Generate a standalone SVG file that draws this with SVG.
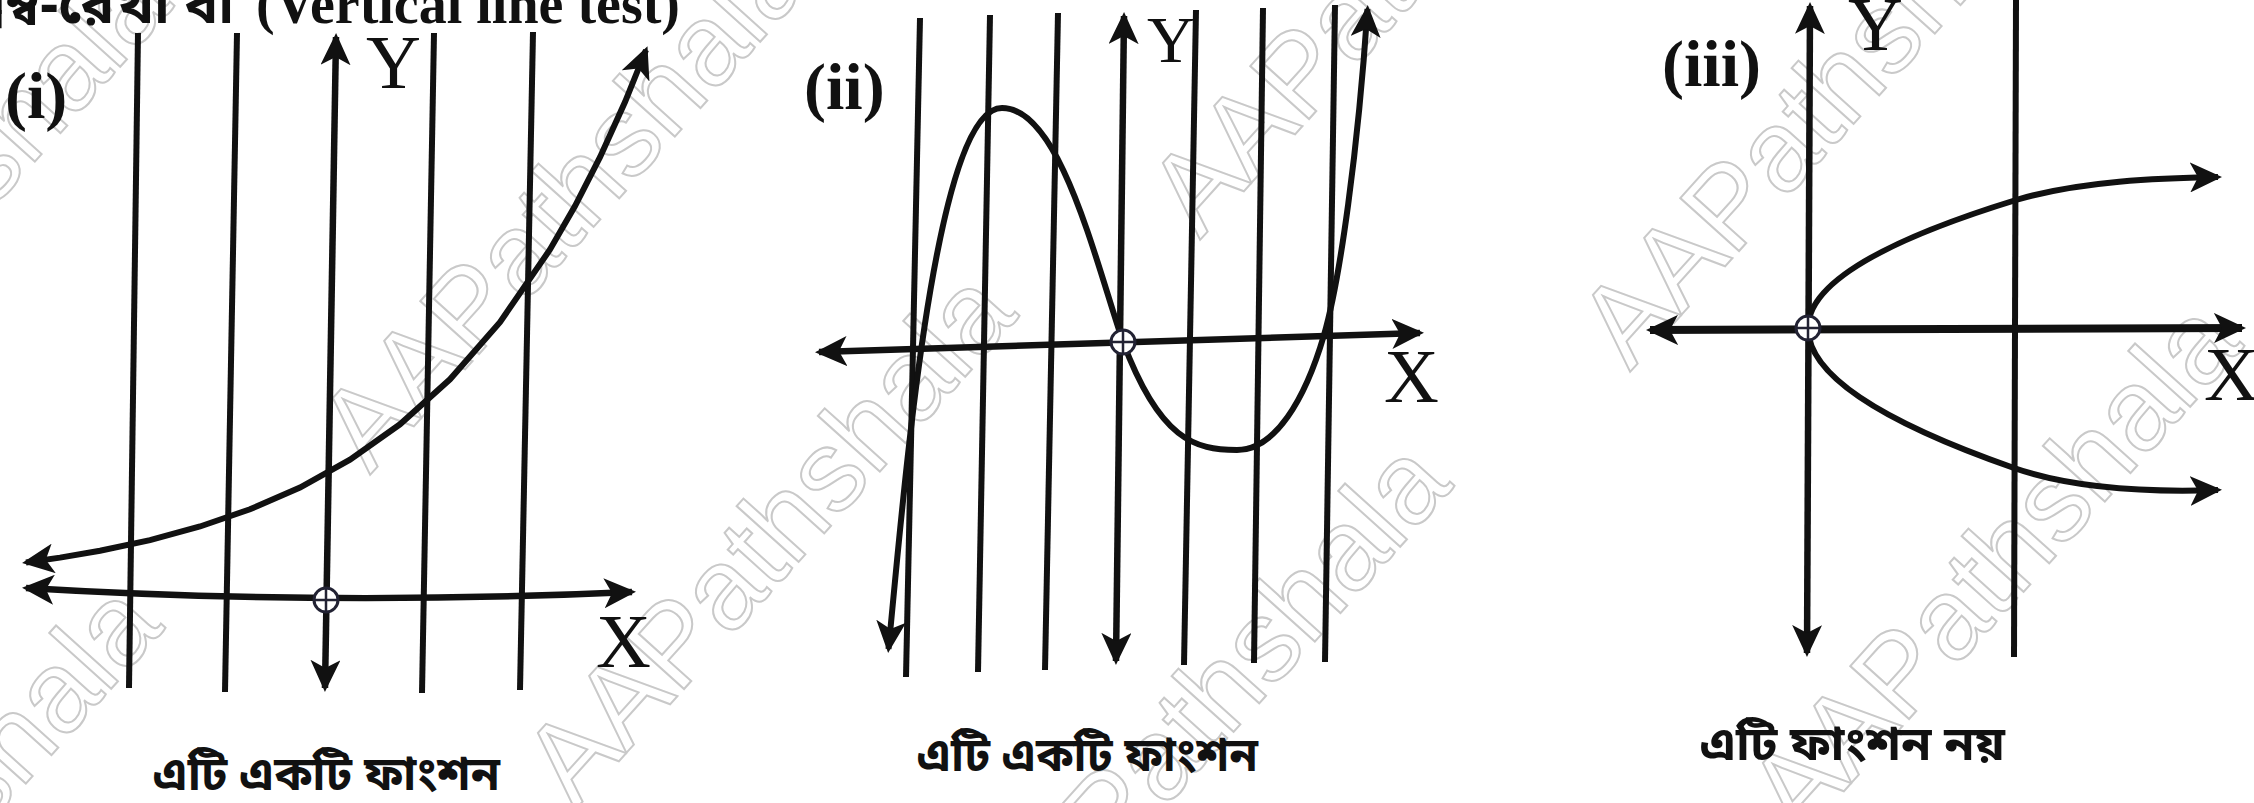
<svg xmlns="http://www.w3.org/2000/svg" width="2254" height="803" viewBox="0 0 2254 803">
<style>
.ln{stroke:#111;stroke-width:6;fill:none}
.ax{stroke:#111;stroke-width:6.5;fill:none}
.cv{stroke:#111;stroke-width:6;fill:none}
.e{marker-end:url(#ah)}
.b{marker-start:url(#ah);marker-end:url(#ah)}
.pl{font-family:"Liberation Serif",serif;font-weight:bold;font-size:66px;fill:#111}
.al{font-family:"Liberation Serif",serif;font-size:76px;fill:#111}
.hd{font-family:"Liberation Serif",serif;font-weight:bold;font-size:56px;fill:#111}
.bn{font-family:"Noto Sans Bengali","Noto Serif Bengali","Lohit Bengali","FreeSans","Noto Sans",sans-serif;font-weight:bold;font-size:48px;fill:#111}
.wm{font-family:"Liberation Sans",sans-serif;font-size:115px;fill:none;stroke:#c9c9c9;stroke-width:2}
.org circle{fill:#fff;stroke:#223;stroke-width:3}
.org path{stroke:#223;stroke-width:2.5;fill:none}
</style>
<defs>
<marker id="ah" viewBox="0 0 32 30" refX="28" refY="15" markerWidth="32" markerHeight="30" markerUnits="userSpaceOnUse" orient="auto-start-reverse">
<path d="M0,0 L32,15 L0,30 L8,15 z" fill="#111"/>
</marker>
</defs>
<rect width="2254" height="803" fill="#fff"/>
<g id="watermarks">
<text class="wm" transform="translate(-270,500) rotate(-48)">AAPathshala</text>
<text class="wm" transform="translate(370,475) rotate(-48)">AAPathshala</text>
<text class="wm" transform="translate(-279,1122) rotate(-48)">AAPathshala</text>
<text class="wm" transform="translate(575,810) rotate(-48)">AAPathshala</text>
<text class="wm" transform="translate(1200,240) rotate(-48)">AAPathshala</text>
<text class="wm" transform="translate(1010,980) rotate(-48)">AAPathshala</text>
<text class="wm" transform="translate(1630,372) rotate(-48)">AAPathshala</text>
<text class="wm" transform="translate(1800,840) rotate(-48)">AAPathshala</text>
</g>
<g id="header">
<text class="bn" x="234" y="23" text-anchor="end" style="font-size:56px">উল্লম্ব-রেখা বা</text>
<text class="hd" x="256" y="23">(Vertical line test)</text>
</g>
<g id="panel-i">
<text class="pl" x="5" y="118">(i)</text>
<g id="vlines-i">
<line class="ln" x1="138" y1="33" x2="129" y2="688"/>
<line class="ln" x1="237" y1="33" x2="225" y2="692"/>
<line class="ln" x1="434" y1="33" x2="422" y2="693"/>
<line class="ln" x1="533" y1="32" x2="520" y2="690"/>
</g>
<g id="axes-i">
<line class="ax b" x1="325" y1="688" x2="336" y2="37"/>
<path class="ax b" d="M26,588 Q326,606 632,592"/>
</g>
<path id="curve-i" class="cv b" d="M26,562.5 L60,557.6 L100,550.7 L150,540.1 L200,526.5 L250,509.3 L300,487.5 L350,459.6 L400,424.3 L450,379.3 L500,322.2 L550,249.5 L575,206 L600,157.2 L625,102 L646,50"/>
<g class="org" transform="translate(326,600)"><circle r="12"/><path d="M-12,0H12M0,-12V12"/></g>
<text class="al" x="366" y="88">Y</text>
<text class="al" x="596" y="667">X</text>
<text class="bn" x="153" y="790" textLength="347" lengthAdjust="spacingAndGlyphs">এটি একটি ফাংশন</text>
</g>
<g id="panel-ii">
<text class="pl" x="804" y="109">(ii)</text>
<g id="vlines-ii">
<line class="ln" x1="920" y1="18" x2="906" y2="677"/>
<line class="ln" x1="990" y1="15" x2="978" y2="672"/>
<line class="ln" x1="1058" y1="13" x2="1045" y2="670"/>
<line class="ln" x1="1196" y1="10" x2="1184" y2="665"/>
<line class="ln" x1="1263" y1="8" x2="1254" y2="663"/>
<line class="ln" x1="1335" y1="5" x2="1325" y2="662"/>
</g>
<g id="axes-ii">
<line class="ax b" x1="1116" y1="661" x2="1124" y2="16"/>
<line class="ax b" x1="819" y1="352" x2="1420" y2="333"/>
</g>
<path id="curve-ii" class="cv b" d="M888.5,649 C905,480 935,108 1002,108 C1060,108 1095,260 1123,342 C1160,440 1195,450 1237,450 C1275,450 1305,400 1324,335 C1340,280 1358,150 1367.5,9"/>
<g class="org" transform="translate(1123,342)"><circle r="12"/><path d="M-12,0H12M0,-12V12"/></g>
<text class="al" x="1147" y="62" style="font-size:66px">Y</text>
<text class="al" x="1384" y="402">X</text>
<text class="bn" x="917" y="771" textLength="341" lengthAdjust="spacingAndGlyphs">এটি একটি ফাংশন</text>
</g>
<g id="panel-iii">
<text class="pl" x="1662" y="86">(iii)</text>
<line id="vline-iii" class="ln" x1="2016" y1="0" x2="2014" y2="657"/>
<g id="axes-iii">
<line class="ax b" x1="1807" y1="653" x2="1810" y2="6"/>
<line class="ax b" x1="1650" y1="330" x2="2242" y2="328" style="stroke-width:8"/>
</g>
<path id="curve-iii-upper" class="cv e" d="M1808,328 Q1808,264 2016,200 C2080,181 2160,178 2218,177"/>
<path id="curve-iii-lower" class="cv e" d="M1808,328 Q1808,396 2014,468 C2080,491 2160,492 2218,490"/>
<g class="org" transform="translate(1808,328)"><circle r="12"/><path d="M-12,0H12M0,-12V12"/></g>
<text class="al" x="1848" y="50">Y</text>
<text class="al" x="2204" y="400">X</text>
<text class="bn" x="1700" y="760" textLength="305" lengthAdjust="spacingAndGlyphs">এটি  ফাংশন নয়</text>
</g>
</svg>
